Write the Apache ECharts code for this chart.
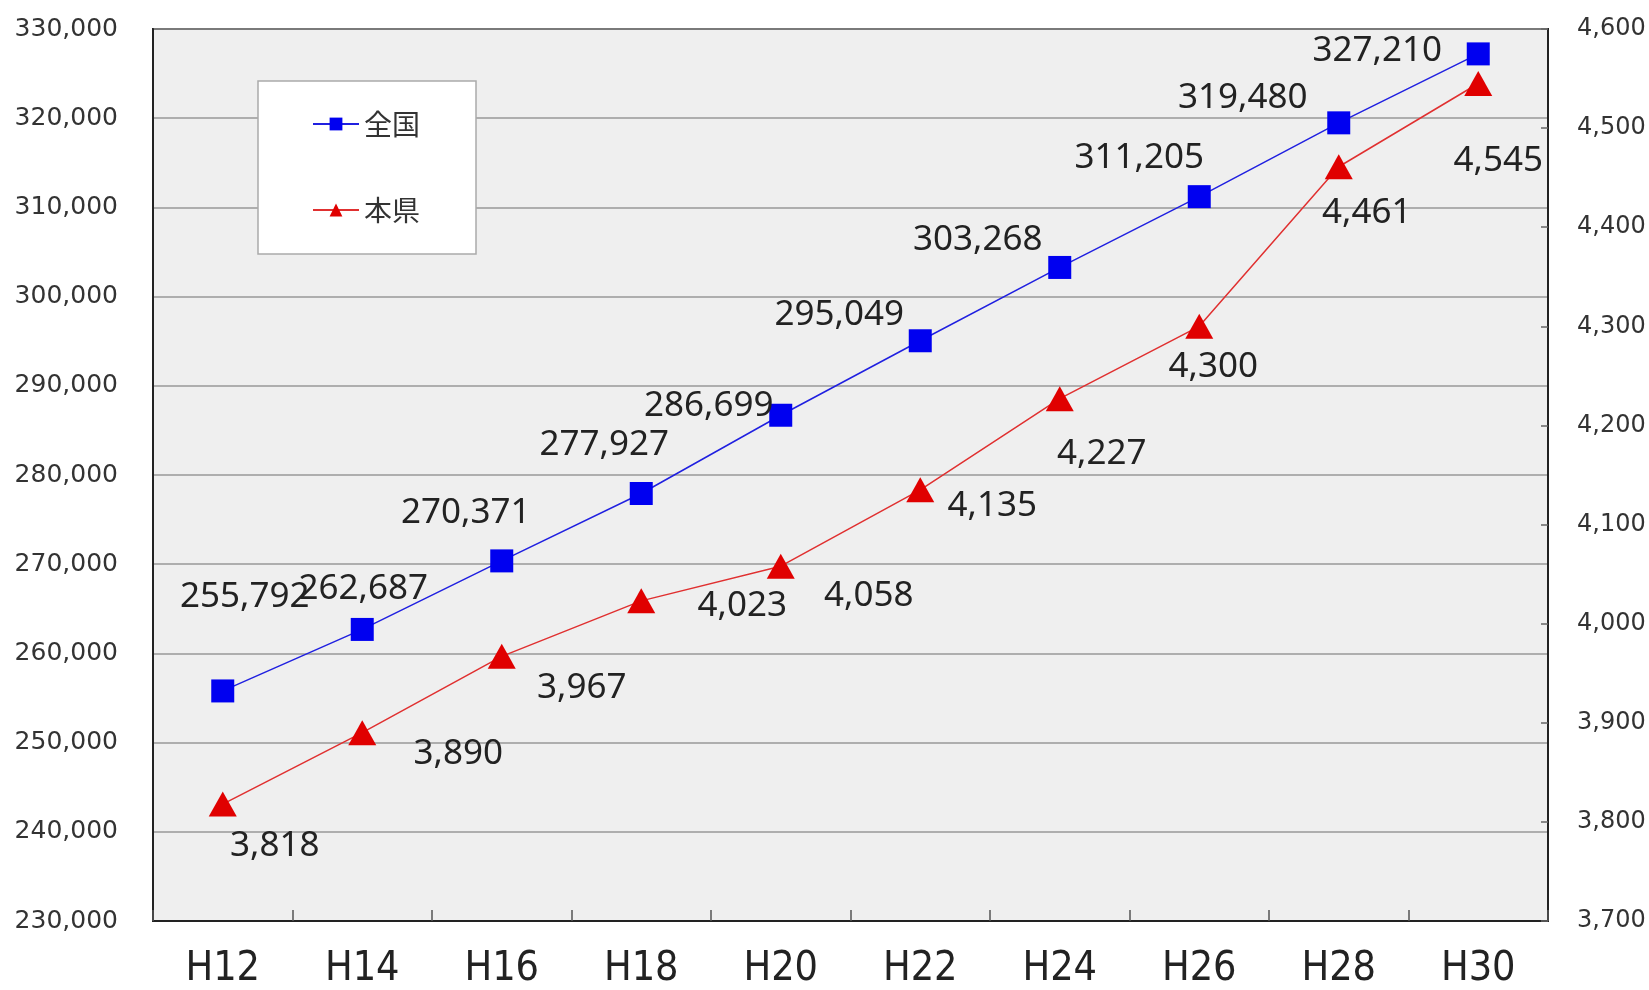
<!DOCTYPE html>
<html><head><meta charset="utf-8">
<script src="https://cdn.jsdelivr.net/npm/echarts@6/dist/echarts.min.js"></script>
<style>html,body{margin:0;padding:0;background:#fff}#c{width:1649px;height:990px}</style>
</head><body><div id="c"></div>
<script>
const categories = ['H12','H14','H16','H18','H20','H22','H24','H26','H28','H30'];
const nationalValues = [255792,262687,270371,277927,286699,295049,303268,311205,319480,327210];
const prefValues = [3818,3890,3967,4023,4058,4135,4227,4300,4461,4545];
const seriesNames = ['全国','本県'];

// label offsets (style only)
const nationalOffsets = [[22,-94],[1,-40],[-36,-48],[-37,-48],[-72,-9],[-81,-26],[-82,-27],[-60,-39],[-96,-25],[-101,-3]];
const prefOffsets = [[52,42],[96,21],[80,32],[101,5],[88,30],[72,16],[42,55],[14,41],[28,46],[20,78]];

const fmt = v => v.toLocaleString('en-US');
const labelStyle = {show:true, position:'inside', fontFamily:'Noto Sans', fontSize:35, color:'#222'};

const chart = echarts.init(document.getElementById('c'));
chart.setOption({
  animation:false,
  backgroundColor:'#fff',
  grid:{left:153, right:101, top:29, bottom:67, show:true, backgroundColor:'#efefef', borderColor:'#222', borderWidth:2},
  legend:{
    orient:'vertical', left:258, top:81,
    backgroundColor:'#fff', borderColor:'#aaa', borderWidth:1.5,
    padding:[29,56,30,54], itemGap:58, itemWidth:46, itemHeight:16,
    textStyle:{fontFamily:'Noto Sans CJK JP', fontSize:28, color:'#333'},
    data:seriesNames
  },
  xAxis:{
    type:'category', data:categories, boundaryGap:true,
    axisLine:{lineStyle:{color:'#222', width:2}},
    axisTick:{show:true, inside:true, length:11, lineStyle:{color:'#555', width:1.5}},
    axisLabel:{fontFamily:"'DejaVu Sans Condensed', 'Liberation Sans Narrow', 'Roboto', sans-serif", fontSize:41, color:'#222', margin:28}
  },
  yAxis:[{
    type:'value', min:230000, max:330000, interval:10000,
    axisLine:{show:true, lineStyle:{color:'#222', width:2}},
    axisTick:{show:false},
    splitLine:{lineStyle:{color:'#999', width:1.5}},
    axisLabel:{fontFamily:'DejaVu Sans', fontSize:25, color:'#333', margin:35, formatter:v=>fmt(v)}
  },{
    type:'value', min:3700, max:4600, interval:100, position:'right',
    axisLine:{show:true, lineStyle:{color:'#222', width:2}},
    axisTick:{show:true, inside:true, length:7, lineStyle:{color:'#666', width:1.5}},
    splitLine:{show:false},
    axisLabel:{fontFamily:'DejaVu Sans', fontSize:24, color:'#333', margin:29, formatter:v=>fmt(v)}
  }],
  series:[{
    name:seriesNames[0], type:'line', yAxisIndex:0,
    symbol:'rect', symbolSize:23,
    lineStyle:{color:'#2020e0', width:1.5}, itemStyle:{color:'#0000f0'},
    data:nationalValues.map((v,i)=>({value:v, label:Object.assign({}, labelStyle, {offset:nationalOffsets[i], formatter:fmt(v)})})),
    z:3
  },{
    name:seriesNames[1], type:'line', yAxisIndex:1,
    symbol:'triangle', symbolSize:[28,25],
    lineStyle:{color:'#e03030', width:1.5}, itemStyle:{color:'#e00000'},
    data:prefValues.map((v,i)=>({value:v, label:Object.assign({}, labelStyle, {offset:prefOffsets[i], formatter:fmt(v)})})),
    z:2
  }]
});
</script></body></html>
